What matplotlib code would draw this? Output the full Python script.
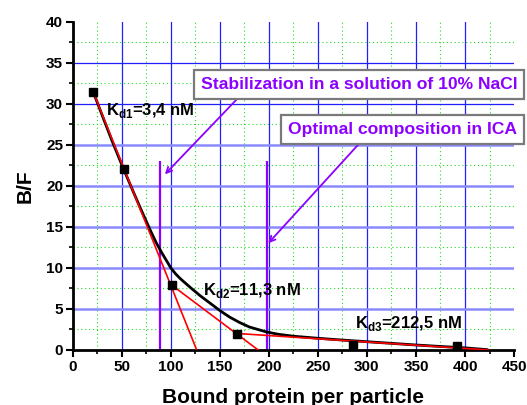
import numpy as np
import matplotlib
matplotlib.use("Agg")
import matplotlib.pyplot as plt
from matplotlib.ticker import MultipleLocator

plt.rcParams["font.family"] = ["Liberation Sans", "DejaVu Sans"]
plt.rcParams["font.weight"] = "bold"
plt.rcParams["mathtext.fontset"] = "custom"
plt.rcParams["mathtext.rm"] = "Liberation Sans:bold"
plt.rcParams["mathtext.bf"] = "Liberation Sans:bold"

# ── data ────────────────────────────────────────────────────────────────────
bound = [21, 52, 100.9, 168, 286, 391.5]          # bound protein per particle
bf = [31.4, 22.0, 7.9, 2.0, 0.6, 0.48]             # B/F

# black fitted curve
fit_x = [21, 30, 40, 52, 62, 70, 79, 85, 90, 95, 100, 105, 110, 120, 130,
         140, 150, 160, 170, 180, 190, 198, 210, 225, 250, 275, 300, 325,
         350, 375, 400, 423]
fit_y = [31.4, 28.6, 25.5, 22.0, 19.2, 17.0, 14.6, 13.1, 12.0, 11.0, 10.0,
         9.25, 8.65, 7.6, 6.6, 5.7, 4.8, 4.0, 3.35, 2.8, 2.45, 2.18, 1.9,
         1.67, 1.42, 1.2, 1.0, 0.8, 0.6, 0.42, 0.25, 0.03]

# red tangents (one per binding site)
tan1_x, tan1_y = [21, 126.4], [31.4, 0]
tan2_x, tan2_y = [100.9, 189], [7.9, 0]
tan3_x, tan3_y = [168, 423.5], [2.0, 0]

kd_labels = ["d1", "d2", "d3"]
kd_values = ["3,4", "11,3", "212,5"]
kd_pos = [(34, 28.6), (133, 6.7), (288, 2.7)]

markers_x = [89, 198]       # purple vertical markers
marker_top = 23

PURPLE = "#8c00ff"

# ── figure ──────────────────────────────────────────────────────────────────
fig = plt.figure(figsize=(5.27, 4.05), dpi=100, facecolor="white")
ax = fig.add_axes([0.138, 0.136, 0.8374, 0.8106])
ax.set_xlim(0, 450)
ax.set_ylim(0, 40)

# grid: blue major, green dotted minor
for gx in np.arange(25, 450, 50):
    ax.axvline(gx, color="#22dd22", lw=0.8, ls=(0, (1, 2.5)), zorder=0)
for gy in np.arange(2.5, 40, 5):
    ax.axhline(gy, color="#22dd22", lw=0.8, ls=(0, (1, 2.5)), zorder=0)
for gx in np.arange(50, 450, 50):
    ax.axvline(gx, color="#2020ff", lw=0.9, zorder=0.5)
for gy in np.arange(5, 40, 5):
    if gy >= 30:
        ax.axhline(gy, color="#2020ff", lw=0.9, zorder=0.5)
    else:
        ax.axhline(gy, color="#8a8aff", lw=1.8, zorder=0.5)

# purple vertical markers
ax.vlines(markers_x, 0, marker_top, color=PURPLE, lw=1.6, zorder=1)

ax.plot(fit_x, fit_y, color="black", lw=2.0, zorder=2,
        solid_joinstyle="round", solid_capstyle="round")
for tx, ty in [(tan1_x, tan1_y), (tan2_x, tan2_y), (tan3_x, tan3_y)]:
    ax.plot(tx, ty, color="red", lw=1.2, zorder=3)
ax.plot(bound, bf, "s", color="black", ms=5.5, zorder=4)

for lab, val, (px, py) in zip(kd_labels, kd_values, kd_pos):
    ax.text(px, py, r"K$_{\mathbf{%s}}$=%s nM" % (lab, val), fontsize=12,
            fontweight="bold", va="baseline", ha="left", zorder=5)

# annotation boxes with arrows
box = dict(boxstyle="square,pad=0.4", fc="white", ec="#7a7a7a", lw=1.6)
ax.text(130.5, 32.3, "Stabilization in a solution of 10% NaCl",
        color=PURPLE, fontsize=12.6, fontweight="bold", va="center",
        ha="left", bbox=box, zorder=6)
ax.text(219.8, 26.8, "Optimal composition in ICA",
        color=PURPLE, fontsize=12.6, fontweight="bold", va="center",
        ha="left", bbox=box, zorder=6)
ax.annotate("", xy=(94, 21.4), xytext=(167, 30.5),
            arrowprops=dict(arrowstyle="->", color=PURPLE, lw=1.3,
                            mutation_scale=10, shrinkA=0, shrinkB=0),
            zorder=5)
ax.annotate("", xy=(199.4, 13.0), xytext=(291.8, 25.1),
            arrowprops=dict(arrowstyle="->", color=PURPLE, lw=1.3,
                            mutation_scale=10, shrinkA=0, shrinkB=0),
            zorder=5)

# axes
ax.spines[["top", "right"]].set_visible(False)
ax.spines[["left", "bottom"]].set_linewidth(2)
ax.xaxis.set_major_locator(MultipleLocator(50))
ax.xaxis.set_minor_locator(MultipleLocator(25))
ax.yaxis.set_major_locator(MultipleLocator(5))
ax.yaxis.set_minor_locator(MultipleLocator(2.5))
ax.tick_params(which="major", length=5, width=1.5, labelsize=11, pad=2)
ax.tick_params(which="minor", length=3, width=1.2)
for lbl in ax.get_xticklabels() + ax.get_yticklabels():
    lbl.set_fontweight("bold")

ax.set_xlabel("Bound protein per particle", fontsize=15, fontweight="bold",
              labelpad=10)
ax.set_ylabel("B/F", fontsize=15, fontweight="bold", labelpad=8)

fig.savefig("out.png", dpi=100)
